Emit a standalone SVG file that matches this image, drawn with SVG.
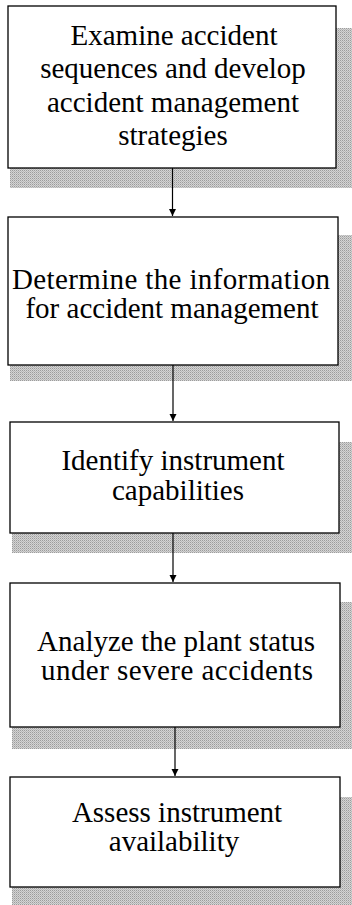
<svg xmlns="http://www.w3.org/2000/svg" width="352" height="905" viewBox="0 0 352 905">
<defs>
<pattern id="dots" width="2" height="2" patternUnits="userSpaceOnUse">
<rect width="2" height="2" fill="#d4d4d4"/>
<rect x="0" y="0" width="1" height="1" fill="#9c9c9c"/>
<rect x="1" y="1" width="1" height="1" fill="#b8b8b8"/>
</pattern>
<marker id="arr" markerWidth="8" markerHeight="8" refX="7" refY="4" orient="auto" markerUnits="userSpaceOnUse">
<path d="M0,0.5 L7,4 L0,7.5 Z" fill="#000"/>
</marker>
<style>
.box{fill:#fff;stroke:#000;stroke-width:1.3}
.sh{fill:url(#dots)}
.t{font-family:"Liberation Serif","Times New Roman",serif;font-size:29px;fill:#000;text-anchor:middle}
.c{stroke:#000;stroke-width:1.2;fill:none}
</style>
</defs>
<rect width="352" height="905" fill="#fff"/>
<g id="n1">
<rect class="sh" x="10" y="28" width="342" height="160"/>
<rect class="box" x="8" y="6" width="328" height="162"/>
<text class="t" x="174" y="45">Examine accident</text>
<text class="t" x="173" y="78">sequences and develop</text>
<text class="t" x="173" y="112">accident management</text>
<text class="t" x="173" y="145">strategies</text>
</g>
<g id="n2">
<rect class="sh" x="10" y="235" width="342" height="146"/>
<rect class="box" x="8" y="217" width="330" height="148"/>
<text class="t" x="171" y="289" textLength="318" lengthAdjust="spacing">Determine the information</text>
<text class="t" x="172" y="318">for accident management</text>
</g>
<g id="n3">
<rect class="sh" x="12" y="442" width="340" height="111"/>
<rect class="box" x="10" y="422" width="329" height="111"/>
<text class="t" x="173" y="470">Identify instrument</text>
<text class="t" x="178" y="500">capabilities</text>
</g>
<g id="n4">
<rect class="sh" x="12" y="602" width="340" height="147"/>
<rect class="box" x="10" y="583" width="330" height="144"/>
<text class="t" x="176" y="651">Analyze the plant status</text>
<text class="t" x="177" y="680" textLength="272" lengthAdjust="spacing">under severe accidents</text>
</g>
<g id="n5">
<rect class="sh" x="12" y="797" width="340" height="108"/>
<rect class="box" x="10" y="777" width="330" height="110"/>
<text class="t" x="177" y="822">Assess instrument</text>
<text class="t" x="174" y="851">availability</text>
</g>
<g id="connectors">
<line class="c" x1="172.5" y1="168" x2="172.5" y2="216" marker-end="url(#arr)"/>
<line class="c" x1="173" y1="365" x2="173" y2="421" marker-end="url(#arr)"/>
<line class="c" x1="173" y1="533" x2="173" y2="582" marker-end="url(#arr)"/>
<line class="c" x1="175" y1="727" x2="175" y2="776" marker-end="url(#arr)"/>
</g>
</svg>
